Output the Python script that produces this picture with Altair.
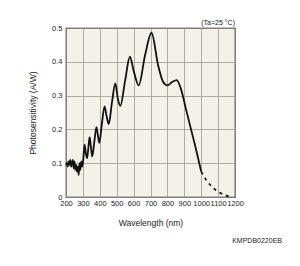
import altair as alt
import pandas as pd

# solid measured curve
wl_solid = [200, 205, 210, 215, 220, 225, 230, 235, 240, 245, 250, 255, 260, 265, 270, 275, 280, 285, 290, 295,
            300, 305, 310, 317, 325, 333, 340, 347, 355, 368, 380, 388, 397, 412, 428, 440, 453, 472, 492, 507,
            522, 550, 578, 602, 630, 668, 706, 745, 775, 800, 828, 855, 880, 910, 940, 970, 1000]
ps_solid = [0.095, 0.10, 0.09, 0.105, 0.095, 0.11, 0.09, 0.10, 0.11, 0.085, 0.105, 0.08, 0.095, 0.075, 0.09, 0.065, 0.10, 0.08, 0.105, 0.09,
            0.10, 0.13, 0.155, 0.13, 0.115, 0.15, 0.177, 0.15, 0.12, 0.165, 0.207, 0.185, 0.16, 0.215, 0.268, 0.24, 0.216, 0.28, 0.336, 0.29,
            0.27, 0.345, 0.415, 0.37, 0.33, 0.42, 0.486, 0.39, 0.34, 0.33, 0.34, 0.346, 0.32, 0.26, 0.20, 0.14, 0.075]
# dashed extrapolated tail
wl_dash = [1000, 1030, 1060, 1100, 1140, 1170]
ps_dash = [0.075, 0.05, 0.032, 0.016, 0.006, 0.001]

x_ticks = [200, 300, 400, 500, 600, 700, 800, 900, 1000, 1100, 1200]
y_ticks = [0, 0.1, 0.2, 0.3, 0.4, 0.5]

solid = pd.DataFrame({"wl": wl_solid, "ps": ps_solid})
dash = pd.DataFrame({"wl": wl_dash, "ps": ps_dash})

FONT = "Liberation Sans"
GRID = "#9a9a92"

xenc = alt.X("wl:Q", scale=alt.Scale(domain=[200, 1200], nice=False),
             axis=alt.Axis(values=x_ticks, format="d", title="Wavelength (nm)", labelFontSize=7.5, titleFontSize=8.5,
                           titleFontWeight="normal", tickSize=0, labelPadding=2, titlePadding=12,
                           domain=False, gridColor=GRID, gridOpacity=1, gridWidth=0.8, labelColor="#222",
                           titleColor="#222", labelFont=FONT, titleFont=FONT, labelFlush=False,
                           labelOverlap=False))
yenc = alt.Y("ps:Q", scale=alt.Scale(domain=[0, 0.5], nice=False),
             axis=alt.Axis(values=y_ticks, title="Photosensitivity (A/W)", labelFontSize=7.5, titleFontSize=8.5,
                           titleFontWeight="normal", tickSize=0, labelPadding=4, titlePadding=14,
                           domain=False, gridColor=GRID, gridOpacity=1, gridWidth=0.8, labelColor="#222",
                           titleColor="#222", labelFont=FONT, titleFont=FONT, labelFlush=False,
                           labelOverlap=False,
                           labelExpr="datum.value == 0 ? '0' : format(datum.value, '.1f')"))

line_solid = alt.Chart(solid).mark_line(color="#111", strokeWidth=1.8, interpolate="monotone").encode(x=xenc, y=yenc)
line_dash = alt.Chart(dash).mark_line(color="#111", strokeWidth=1.8, strokeDash=[3, 4],
                                      interpolate="monotone").encode(x=xenc, y=yenc)

note = alt.Chart(pd.DataFrame({"t": ["(Ta=25 °C)"]})).mark_text(
    align="right", baseline="bottom", fontSize=7, font=FONT, color="#222"
).encode(text="t:N", x=alt.value(169), y=alt.value(-2))
code = alt.Chart(pd.DataFrame({"t": ["KMPDB0220EB"]})).mark_text(
    align="right", baseline="middle", fontSize=7, font=FONT, color="#222"
).encode(text="t:N", x=alt.value(216), y=alt.value(213))

chart = alt.layer(line_solid, line_dash, note, code).properties(
    width=169, height=169,
    autosize=alt.AutoSizeParams(type="none"),
    padding={"left": 66, "top": 28, "right": 65, "bottom": 69},
    background="white",
).configure_view(fill="#f4f2e8", stroke="#111", strokeWidth=1.2)

chart.save("out.html", embed_options={"renderer": "svg", "actions": False})
